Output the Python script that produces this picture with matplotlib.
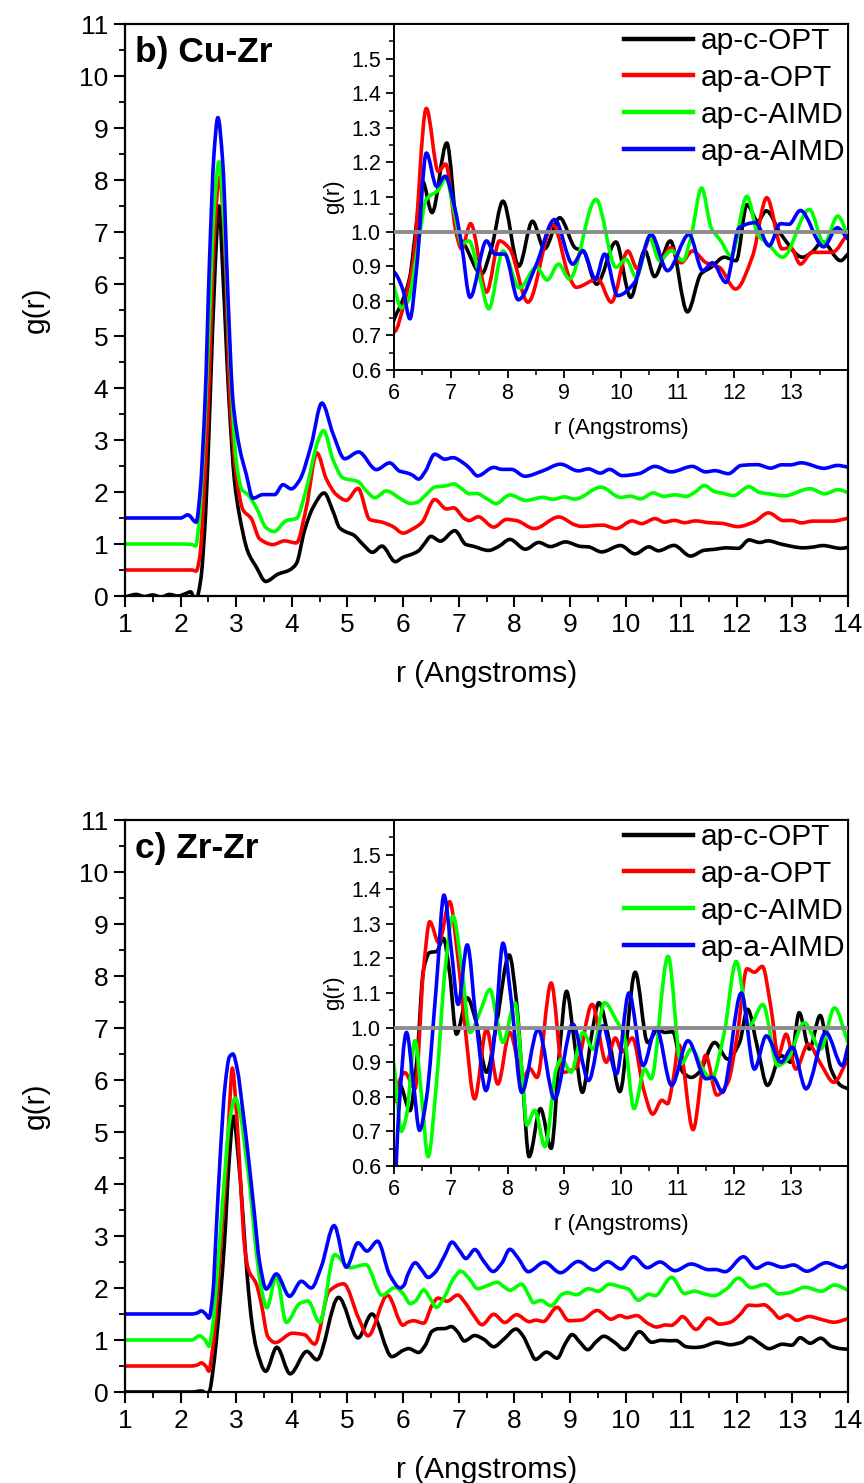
import numpy as np
import matplotlib
matplotlib.use("Agg")
import matplotlib.pyplot as plt
from matplotlib.path import Path
from matplotlib.patches import PathPatch
from matplotlib.lines import Line2D
from matplotlib.ticker import MultipleLocator, FormatStrFormatter

plt.rcParams['font.family'] = ['Liberation Sans', 'DejaVu Sans']

# ---------------- data (r in Angstrom, raw g(r)) ----------------
series_names = ["ap-c-OPT", "ap-a-OPT", "ap-c-AIMD", "ap-a-AIMD"]
series_colors = ["#000000", "#ff0000", "#00ff00", "#0000ff"]
main_offsets = [0.0, 0.5, 1.0, 1.5]

cuzr_black = [(1.0,-0.02),(1.2,0.03),(1.35,-0.01),(1.5,0.02),(1.65,-0.02),(1.8,0.03),(1.95,0.0),(2.1,0.05),(2.18,0.08),
    (2.27,-0.1),(2.36,0.3),(2.45,1.6),(2.53,3.77),(2.62,6.3),(2.69,7.5),(2.76,6.2),(2.87,3.77),(2.97,2.2),(3.05,1.6),
    (3.21,0.85),(3.36,0.56),(3.53,0.28),(3.75,0.42),(3.96,0.50),(4.08,0.62),(4.23,1.27),(4.38,1.70),(4.58,1.98),
    (4.74,1.63),(4.86,1.31),(5.0,1.22),(5.10,1.18),(5.28,0.99),(5.45,0.84),(5.62,0.96),(5.86,0.66),(6.0,0.745),
    (6.15,0.80),(6.28,0.87),(6.38,1.0),(6.50,1.146),(6.67,1.055),(6.93,1.256),(7.13,0.99),(7.25,0.96),(7.54,0.877),
    (7.72,0.954),(7.92,1.088),(8.20,0.90),(8.44,1.03),(8.65,0.95),(8.92,1.04),(9.20,0.952),(9.33,0.945),(9.57,0.848),
    (9.91,0.97),(10.17,0.81),(10.42,0.945),(10.59,0.87),(10.87,0.973),(11.17,0.768),(11.41,0.878),(11.59,0.897),
    (11.82,0.926),(12.03,0.916),(12.22,1.078),(12.41,1.03),(12.56,1.06),(12.82,0.992),(13.20,0.926),(13.36,0.94),
    (13.55,0.97),(13.87,0.916),(14.0,0.935)]
cuzr_red = [(1.0,0.0),(2.0,0.0),(2.2,0.0),(2.28,-0.02),(2.35,0.3),(2.42,1.5),(2.50,3.27),(2.60,6.3),(2.70,7.56),
    (2.79,6.3),(2.89,3.27),(3.0,1.84),(3.12,1.16),(3.27,0.99),(3.42,0.60),(3.66,0.49),(3.87,0.56),(4.08,0.52),
    (4.26,1.20),(4.45,2.25),(4.62,1.75),(4.80,1.45),(4.98,1.34),(5.19,1.57),(5.40,0.97),(5.62,0.92),(5.81,0.84),
    (6.0,0.71),(6.19,0.80),(6.34,0.916),(6.57,1.356),(6.78,1.174),(6.91,1.195),(7.10,0.992),(7.19,0.95),(7.35,1.023),
    (7.63,0.825),(7.86,0.973),(8.04,0.95),(8.36,0.796),(8.80,1.02),(9.09,0.868),(9.21,0.839),(9.59,0.863),(9.83,0.796),
    (10.12,0.944),(10.29,0.892),(10.53,0.988),(10.70,0.92),(10.88,0.954),(11.06,0.91),(11.26,0.944),(11.50,0.91),
    (11.73,0.897),(12.02,0.834),(12.32,0.93),(12.57,1.098),(12.84,0.95),(12.99,0.954),(13.16,0.906),(13.37,0.94),
    (13.72,0.94),(14.0,0.995)]
cuzr_green = [(1.0,0.0),(2.0,0.0),(2.2,-0.01),(2.27,-0.04),(2.33,0.4),(2.42,2.0),(2.50,3.9),(2.60,6.4),(2.69,7.35),
    (2.79,6.0),(2.90,3.3),(3.0,1.6),(3.10,1.05),(3.21,0.95),(3.36,0.70),(3.54,0.31),(3.68,0.24),(3.90,0.45),
    (4.08,0.49),(4.26,1.06),(4.47,1.98),(4.57,2.18),(4.74,1.62),(4.92,1.27),(5.19,1.20),(5.34,1.02),(5.49,0.89),
    (5.70,1.02),(5.94,0.88),(6.0,0.84),(6.13,0.78),(6.25,0.80),(6.40,0.935),(6.57,1.093),(6.78,1.12),(6.91,1.155),
    (7.07,1.05),(7.19,0.965),(7.32,0.973),(7.51,0.868),(7.67,0.777),(7.92,0.944),(8.21,0.837),(8.51,0.897),(8.70,0.86),
    (8.90,0.906),(9.09,0.863),(9.56,1.093),(9.91,0.897),(10.09,0.92),(10.27,0.868),(10.50,0.983),(10.68,0.916),
    (10.89,0.945),(11.09,0.916),(11.24,0.99),(11.42,1.126),(11.59,1.011),(11.76,0.973),(11.94,0.93),(12.22,1.102),
    (12.41,0.992),(12.59,0.964),(12.85,0.926),(13.32,1.064),(13.58,0.965),(13.82,1.045),(14.0,0.988)]
cuzr_blue = [(1.0,0.0),(2.0,0.0),(2.13,0.06),(2.28,-0.08),(2.35,0.5),(2.44,2.27),(2.52,4.96),(2.60,7.0),(2.67,7.70),
    (2.76,6.8),(2.85,4.3),(2.94,2.27),(3.06,1.35),(3.18,0.84),(3.30,0.38),(3.48,0.45),(3.69,0.45),(3.84,0.64),
    (3.99,0.56),(4.14,0.73),(4.35,1.41),(4.54,2.21),(4.74,1.62),(4.95,1.14),(5.20,1.27),(5.52,0.93),(5.76,1.06),
    (5.94,0.90),(6.06,0.87),(6.16,0.83),(6.28,0.748),(6.40,0.897),(6.57,1.227),(6.75,1.131),(6.90,1.16),(7.07,1.069),
    (7.19,0.964),(7.34,0.81),(7.63,0.973),(7.78,0.935),(7.95,0.935),(8.19,0.803),(8.51,0.906),(8.83,1.035),(9.15,0.906),
    (9.33,0.944),(9.55,0.863),(9.71,0.935),(9.94,0.815),(10.24,0.853),(10.53,0.992),(10.82,0.887),(11.20,0.992),
    (11.44,0.887),(11.61,0.91),(11.85,0.853),(12.08,1.011),(12.37,1.026),(12.61,0.959),(12.81,1.023),(12.96,1.021),
    (13.16,1.061),(13.57,0.956),(13.81,1.011),(14.0,0.978)]

zrzr_black = [(1.0,0.0),(1.4,0.0),(1.8,0.0),(2.2,0.0),(2.38,0.02),(2.47,-0.03),(2.52,0.02),(2.58,0.4),(2.64,0.97),
    (2.72,1.9),(2.79,2.9),(2.87,4.4),(2.95,5.3),(3.03,4.6),(3.12,3.4),(3.20,2.2),(3.28,1.35),(3.36,0.85),(3.53,0.40),
    (3.73,0.86),(3.97,0.35),(4.27,0.78),(4.45,0.62),(4.84,1.82),(5.19,1.04),(5.44,1.50),(5.80,0.68),(6.0,0.80),
    (6.10,0.835),(6.28,0.76),(6.40,0.90),(6.52,1.167),(6.63,1.217),(6.75,1.22),(6.87,1.258),(6.98,1.158),(7.10,0.981),
    (7.29,1.086),(7.45,1.014),(7.63,0.871),(7.81,1.014),(8.03,1.21),(8.16,1.072),(8.27,0.833),(8.38,0.627),(8.58,0.766),
    (8.77,0.651),(8.92,0.938),(9.04,1.105),(9.18,0.957),(9.32,0.813),(9.48,0.976),(9.61,1.072),(9.80,0.957),(9.98,0.815),
    (10.25,1.16),(10.47,0.957),(10.65,0.995),(10.77,0.986),(10.91,0.988),(11.09,0.871),(11.24,0.856),(11.38,0.871),
    (11.65,0.957),(11.88,0.909),(12.09,0.957),(12.23,1.053),(12.41,0.938),(12.58,0.833),(12.82,0.919),(12.99,0.90),
    (13.14,1.043),(13.32,0.938),(13.51,1.035),(13.70,0.88),(13.87,0.833),(14.0,0.823)]
zrzr_red = [(1.0,0.0),(2.2,0.0),(2.30,0.02),(2.37,0.06),(2.45,0.0),(2.51,-0.10),(2.56,0.2),(2.62,0.8),(2.72,2.3),
    (2.81,3.6),(2.88,5.0),(2.93,5.73),(2.99,5.1),(3.08,3.5),(3.15,2.3),(3.22,1.85),(3.36,1.58),(3.45,1.2),(3.57,0.56),
    (3.70,0.45),(4.01,0.63),(4.23,0.60),(4.41,0.42),(4.67,1.44),(4.93,1.58),(5.20,0.92),(5.37,0.58),(5.72,1.36),
    (6.0,0.785),(6.08,0.84),(6.19,0.87),(6.37,0.823),(6.52,1.167),(6.63,1.306),(6.79,1.245),(6.98,1.364),(7.13,1.196),
    (7.25,1.005),(7.42,0.794),(7.63,0.995),(7.83,0.837),(8.04,0.986),(8.27,0.852),(8.39,0.882),(8.52,0.856),(8.77,1.129),
    (8.98,0.871),(9.21,0.885),(9.49,1.067),(9.74,0.90),(9.90,0.97),(10.02,0.93),(10.20,0.97),(10.40,0.82),(10.56,0.75),
    (10.72,0.79),(10.82,0.78),(10.92,0.85),(11.02,0.95),(11.27,0.705),(11.49,0.92),(11.69,0.805),(11.88,0.84),
    (12.05,0.98),(12.22,1.17),(12.35,1.16),(12.49,1.177),(12.64,1.06),(12.77,0.92),(12.91,0.981),(13.08,0.88),
    (13.30,0.952),(13.52,0.895),(13.75,0.842),(14.0,0.91)]
zrzr_green = [(1.0,0.0),(2.2,0.0),(2.34,0.08),(2.44,0.0),(2.51,-0.12),(2.58,0.3),(2.66,1.3),(2.78,3.0),(2.88,4.2),
    (2.98,4.65),(3.08,4.3),(3.18,3.5),(3.25,2.9),(3.34,1.9),(3.44,1.06),(3.55,0.62),(3.72,1.23),(3.90,0.34),(4.14,0.70),
    (4.29,0.75),(4.50,0.34),(4.77,1.64),(5.04,1.39),(5.33,1.45),(5.62,0.86),(5.86,1.01),(6.0,0.89),(6.13,0.70),
    (6.22,0.746),(6.37,0.962),(6.49,0.794),(6.60,0.627),(6.75,0.842),(6.90,1.167),(7.04,1.322),(7.19,1.177),(7.34,0.986),
    (7.51,1.043),(7.69,1.11),(7.83,1.01),(7.92,0.957),(8.13,1.072),(8.27,0.842),(8.34,0.718),(8.48,0.761),(8.66,0.656),
    (8.86,0.88),(8.95,0.909),(9.12,0.871),(9.33,0.986),(9.51,0.938),(9.71,1.072),(9.92,1.02),(10.05,0.98),(10.23,0.766),
    (10.42,0.88),(10.53,0.852),(10.83,1.206),(11.06,0.895),(11.24,0.938),(11.44,0.88),(11.59,0.852),(11.82,0.986),
    (12.03,1.191),(12.26,1.005),(12.50,1.067),(12.76,0.89),(12.94,0.909),(13.23,1.014),(13.52,0.938),(13.76,1.057),
    (14.0,0.957)]
zrzr_blue = [(1.0,0.0),(2.2,0.0),(2.30,0.02),(2.37,0.06),(2.45,0.0),(2.51,-0.08),(2.58,0.4),(2.64,1.6),(2.71,3.0),
    (2.80,4.4),(2.88,4.95),(2.94,5.0),(3.02,4.7),(3.12,3.9),(3.22,3.0),(3.32,2.0),(3.42,1.0),(3.54,0.48),(3.72,0.77),
    (3.96,0.34),(4.17,0.63),(4.35,0.50),(4.53,0.91),(4.76,1.70),(4.98,0.90),(5.19,1.37),(5.35,1.21),(5.54,1.40),
    (5.76,0.75),(5.95,0.50),(6.02,0.56),(6.08,0.746),(6.22,0.986),(6.34,0.842),(6.45,0.703),(6.57,0.794),(6.75,1.129),
    (6.88,1.383),(7.01,1.225),(7.13,1.067),(7.29,1.239),(7.45,1.014),(7.62,0.818),(7.78,0.986),(7.92,1.244),(8.07,1.072),
    (8.25,0.813),(8.54,0.995),(8.83,0.794),(9.15,1.01),(9.43,0.847),(9.68,1.005),(9.92,0.866),(10.14,1.10),(10.39,0.89),
    (10.62,1.0),(10.89,0.833),(11.18,0.962),(11.50,0.852),(11.62,0.856),(11.79,0.813),(12.12,1.10),(12.35,0.88),
    (12.56,0.976),(12.82,0.90),(13.02,0.943),(13.26,0.823),(13.61,0.986),(13.90,0.89),(14.0,0.947)]

panels = [
    ("b) Cu-Zr", [cuzr_black, cuzr_red, cuzr_green, cuzr_blue]),
    ("c) Zr-Zr", [zrzr_black, zrzr_red, zrzr_green, zrzr_blue]),
]

main_xticks = list(range(1, 15))
main_yticks = list(range(0, 12))
inset_xticks = list(range(6, 14))
inset_yticks = [0.6, 0.7, 0.8, 0.9, 1.0, 1.1, 1.2, 1.3, 1.4, 1.5]


def smooth_path(pts, offset=0.0):
    """Bezier path through the read points (monotone cubic Hermite tangents)."""
    x = np.array([p[0] for p in pts], float)
    y = np.array([p[1] for p in pts], float) + offset
    h = np.diff(x)
    d = np.diff(y) / h
    m = np.zeros_like(x)
    for i in range(1, len(x) - 1):
        if d[i - 1] * d[i] > 0:
            w1 = 2 * h[i] + h[i - 1]
            w2 = h[i] + 2 * h[i - 1]
            m[i] = (w1 + w2) / (w1 / d[i - 1] + w2 / d[i])
    m[0] = d[0]
    m[-1] = d[-1]
    verts = [(x[0], y[0])]
    codes = [Path.MOVETO]
    for i in range(len(x) - 1):
        verts += [(x[i] + h[i] / 3, y[i] + m[i] * h[i] / 3),
                  (x[i + 1] - h[i] / 3, y[i + 1] - m[i + 1] * h[i] / 3),
                  (x[i + 1], y[i + 1])]
        codes += [Path.CURVE4] * 3
    return Path(verts, codes)


W, H = 864, 1483
fig = plt.figure(figsize=(W / 100, H / 100), dpi=100)

main_rects = [[125 / W, 1 - 596 / H, 723 / W, 572 / H],
              [125 / W, 1 - 1392 / H, 723 / W, 572 / H]]
inset_rects = [[394 / W, 1 - 370 / H, 454 / W, 346 / H],
               [394 / W, 1 - 1166 / H, 454 / W, 346 / H]]

LW = 2.6
for (title, series), mrect, irect in zip(panels, main_rects, inset_rects):
    ax = fig.add_axes(mrect)
    for pts, col, off in zip(series, series_colors, main_offsets):
        ax.add_patch(PathPatch(smooth_path(pts, off), facecolor='none', edgecolor=col,
                               lw=LW, joinstyle='round', capstyle='round'))
    ax.set_xlim(1, 14)
    ax.set_ylim(0, 11)
    ax.set_xticks(main_xticks)
    ax.set_yticks(main_yticks)
    ax.xaxis.set_minor_locator(MultipleLocator(0.5))
    ax.yaxis.set_minor_locator(MultipleLocator(0.5))
    ax.tick_params(which='major', direction='out', length=8, width=1.5, labelsize=19,
                   top=False, right=False, pad=4)
    ax.tick_params(which='minor', direction='out', length=4.5, width=1.3, top=False, right=False)
    for s in ax.spines.values():
        s.set_linewidth(1.6)
    ax.set_xlabel("r (Angstroms)", fontsize=21.5, labelpad=17)
    ax.set_ylabel("g(r)", fontsize=21.5, labelpad=21)
    ax.text(10 / 723, 0.951, title, transform=ax.transAxes, fontsize=25.5,
            fontweight='bold', ha='left', va='center')

    ins = fig.add_axes(irect)
    for pts, col in zip(series, series_colors):
        ins.add_patch(PathPatch(smooth_path(pts), facecolor='none', edgecolor=col,
                                lw=LW, joinstyle='round', capstyle='round'))
    ins.axhline(1.0, color='#8c8c8c', lw=2.8, zorder=5)
    ins.set_xlim(6, 14)
    ins.set_ylim(0.6, 1.6)
    ins.set_xticks(inset_xticks)
    ins.set_yticks(inset_yticks)
    ins.yaxis.set_major_formatter(FormatStrFormatter('%.1f'))
    ins.xaxis.set_minor_locator(MultipleLocator(0.5))
    ins.yaxis.set_minor_locator(MultipleLocator(0.05))
    ins.tick_params(which='major', direction='out', length=6, width=1.3, labelsize=15.5,
                    top=False, right=False)
    ins.tick_params(which='minor', direction='out', length=3.5, width=1.1, top=False, right=False)
    for s in ins.spines.values():
        s.set_linewidth(1.4)
    ins.set_xlabel("r (Angstroms)", fontsize=16, labelpad=10)
    ins.set_ylabel("g(r)", fontsize=16, labelpad=5)
    handles = [Line2D([], [], color=c, lw=3.2) for c in series_colors]
    ins.legend(handles, series_names, loc='upper right', frameon=False, fontsize=21.5,
               handlelength=2.3, handletextpad=0.25, labelspacing=0.3,
               borderaxespad=0.0, borderpad=0.1)

fig.savefig("out.png", dpi=100)
